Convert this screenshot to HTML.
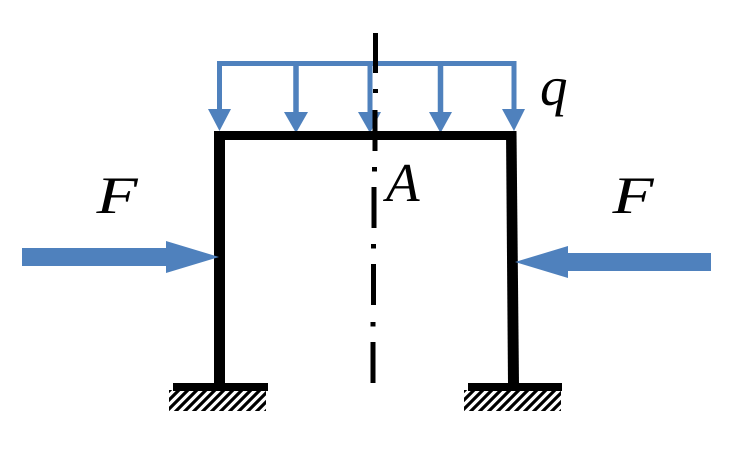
<!DOCTYPE html>
<html>
<head>
<meta charset="utf-8">
<style>
html,body{margin:0;padding:0;background:#fff;}
svg{display:block;}
text{font-family:"Liberation Serif",serif;font-style:italic;fill:#000;}
</style>
</head>
<body>
<svg width="740" height="455" viewBox="0 0 740 455" xmlns="http://www.w3.org/2000/svg">
<defs>
<pattern id="h1" patternUnits="userSpaceOnUse" width="9" height="9" x="169" y="391">
<rect width="9" height="9" fill="#fff"/>
<path d="M-2 11L11 -2M-2 2L2 -2M7 11L11 7" stroke="#000" stroke-width="3.2"/>
</pattern>
<pattern id="h2" patternUnits="userSpaceOnUse" width="9" height="9" x="464" y="391">
<rect width="9" height="9" fill="#fff"/>
<path d="M-2 11L11 -2M-2 2L2 -2M7 11L11 7" stroke="#000" stroke-width="3.2"/>
</pattern>
</defs>

<!-- hatching -->
<rect x="169" y="390" width="97" height="21" fill="url(#h1)"/>
<rect x="464" y="390" width="97" height="21" fill="url(#h2)"/>

<!-- distributed load -->
<g fill="none" stroke="#4f81bd">
<path d="M219.5 112V63.5H514V112" stroke-width="5"/>
<path d="M296 63V114" stroke-width="5.5"/>
<path d="M370 63V114" stroke-width="5"/>
<path d="M440.5 63V114" stroke-width="5.5"/>
</g>
<g fill="#4f81bd">
<path d="M208 109H231L219.5 131Z"/>
<path d="M284 112H308L296 133Z"/>
<path d="M358 112H381L370 133Z"/>
<path d="M429 112H452L440.5 133Z"/>
<path d="M502 109H525L514 131Z"/>
</g>

<!-- frame -->
<g fill="#000">
<path d="M214 131H516V140H225V384H214Z"/>
<path d="M506 131H516.5L519 384H508Z"/>
<rect x="173" y="383" width="95" height="8"/>
<rect x="468" y="383" width="94" height="8"/>
</g>

<!-- centre line -->
<g fill="#000">
<rect x="373" y="33" width="5" height="40"/>
<rect x="373" y="89" width="5" height="4"/>
<rect x="372.5" y="110" width="5" height="41"/>
<rect x="372" y="167" width="5" height="4.500"/>
<rect x="371.500" y="187" width="5" height="41"/>
<rect x="371" y="244" width="5" height="4.500"/>
<rect x="371" y="264" width="5" height="41"/>
<rect x="370.500" y="322" width="5" height="4.500"/>
<rect x="370.500" y="342" width="5" height="41"/>
</g>

<!-- force arrows -->
<path d="M22 248H166V241L219 257L166 273V266H22Z" fill="#4f81bd"/>
<path d="M711 253H568V246L515 262L568 278V271H711Z" fill="#4f81bd"/>

<!-- labels -->
<text transform="translate(96.5 213) scale(1.27 1)" font-size="53">F</text>
<text transform="translate(612.5 213) scale(1.27 1)" font-size="53">F</text>
<text x="386" y="201" font-size="55">A</text>
<text x="540" y="105" font-size="55">q</text>
</svg>
</body>
</html>
